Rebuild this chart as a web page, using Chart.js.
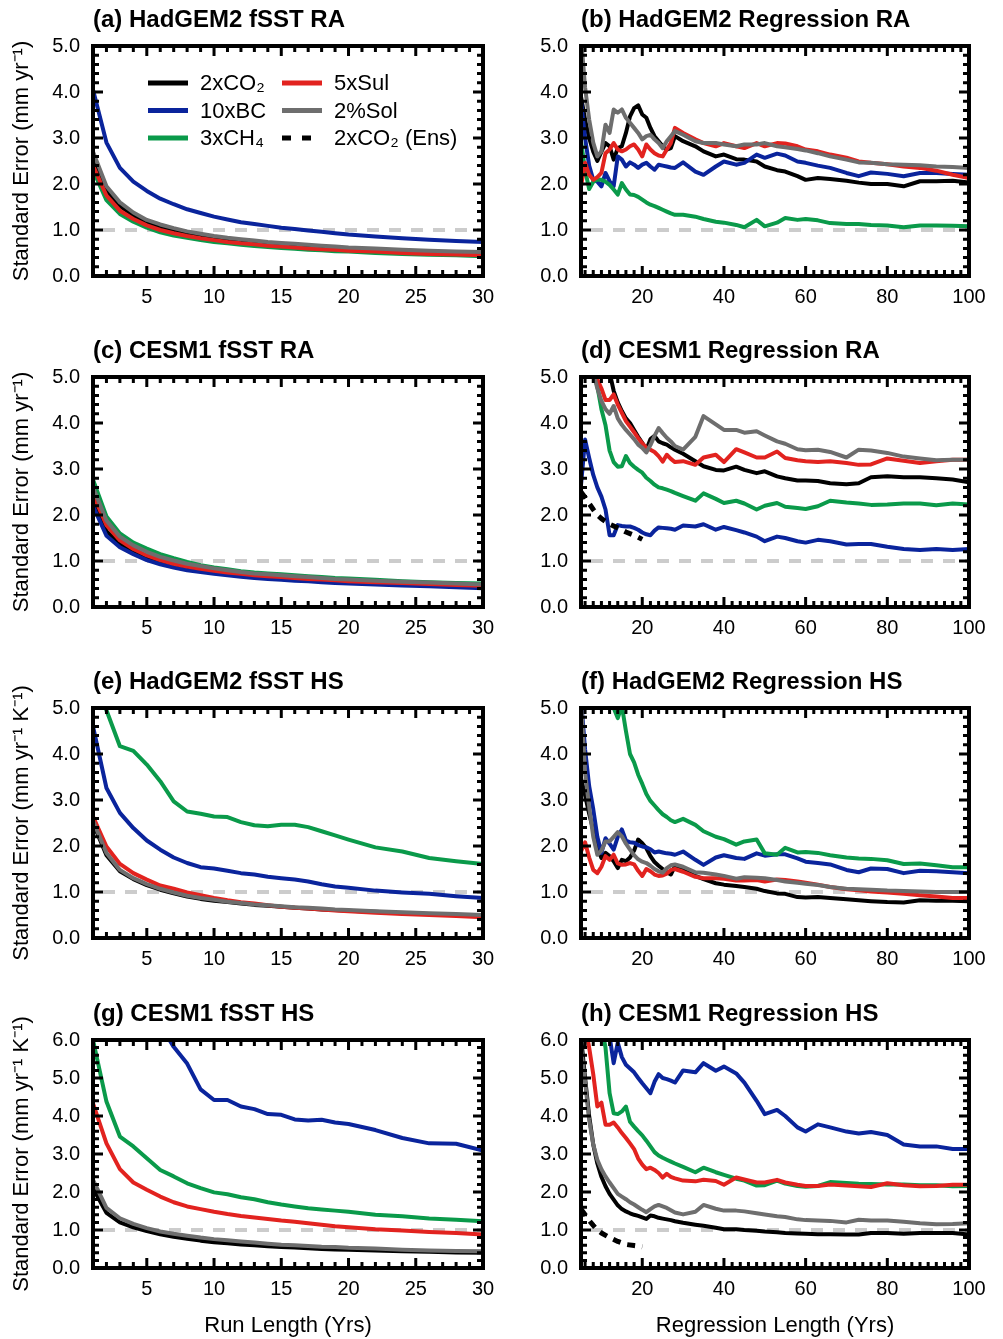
<!DOCTYPE html>
<html>
<head>
<meta charset="utf-8">
<script src="https://cdn.jsdelivr.net/npm/chart.js@4"></script>
<style>
  body { margin: 0; background: #fff; }
  #wrap { position: relative; width: 1003px; height: 1339px; background: #fff; }
  #wrap canvas { position: absolute; }
</style>
</head>
<body>
<div id="wrap"></div>
<script>
// ---- x values / ticks ----
const runX = [1,2,3,4,5,6,7,8,9,10,11,12,13,14,15,16,17,18,19,20,22,24,26,28,30];
const regX = [5,6,7,8,9,10,11,12,13,14,15,16,17,18,19,20,21,22,23,24,25,26,27,28,
              30,33,35,38,40,43,45,48,50,53,55,58,60,63,66,70,73,76,80,84,88,92,96,100];
const ensX = [5,6,7,8,9,10,12,14,16,18,20];
const runTicks = [5,10,15,20,25,30];
const regTicks = [20,40,60,80,100];
const yTicks5 = [0,1,2,3,4,5];
const yTicks6 = [0,1,2,3,4,5,6];

const seriesNames = ['2xCO₂', '10xBC', '3xCH₄', '5xSul', '2%Sol', '2xCO₂ (Ens)'];
const seriesColors = ['#000000', '#0a249c', '#0a9a4a', '#e2231f', '#6e6e6e', '#000000'];

const panelTitles = ['(a) HadGEM2 fSST RA', '(b) HadGEM2 Regression RA',
                     '(c) CESM1 fSST RA', '(d) CESM1 Regression RA',
                     '(e) HadGEM2 fSST HS', '(f) HadGEM2 Regression HS',
                     '(g) CESM1 fSST HS', '(h) CESM1 Regression HS'];
const yLabelRA = 'Standard Error (mm yr⁻¹)';
const yLabelHS = 'Standard Error (mm yr⁻¹ K⁻¹)';
const xLabelRun = 'Run Length (Yrs)';
const xLabelReg = 'Regression Length (Yrs)';

// ---- (a) HadGEM2 fSST RA ----
const a_co2 = [2.6,1.85,1.52,1.32,1.17,1.07,0.99,0.93,0.87,0.83,0.79,0.76,0.73,0.7,0.68,0.66,0.64,0.62,0.6,0.59,0.56,0.54,0.52,0.5,0.48];
const a_bc  = [4.05,2.9,2.35,2.05,1.85,1.68,1.56,1.45,1.37,1.29,1.23,1.17,1.13,1.09,1.05,1.02,0.99,0.96,0.93,0.9,0.86,0.82,0.79,0.76,0.74];
const a_ch4 = [2.3,1.65,1.35,1.18,1.05,0.95,0.88,0.83,0.78,0.74,0.71,0.68,0.65,0.63,0.61,0.59,0.57,0.56,0.54,0.53,0.5,0.48,0.46,0.45,0.43];
const a_sul = [2.4,1.75,1.42,1.24,1.1,1.0,0.93,0.87,0.82,0.78,0.74,0.71,0.69,0.66,0.64,0.62,0.6,0.58,0.57,0.55,0.53,0.5,0.48,0.47,0.45];
const a_sol = [2.7,1.95,1.6,1.38,1.22,1.12,1.04,0.97,0.92,0.87,0.83,0.8,0.77,0.74,0.72,0.7,0.68,0.66,0.64,0.62,0.6,0.57,0.55,0.53,0.52];

// ---- (b) HadGEM2 Regression RA ----
const b_co2 = [3.9,3.4,3.0,2.7,2.5,2.7,2.89,2.82,2.53,2.78,2.82,3.11,3.47,3.65,3.71,3.51,3.44,3.22,3.04,2.93,2.82,2.75,2.78,3.04,
               2.93,2.82,2.71,2.6,2.64,2.54,2.53,2.49,2.38,2.3,2.27,2.17,2.09,2.13,2.11,2.07,2.03,2.0,2.0,1.95,2.06,2.06,2.07,2.03];
const b_bc  = [3.8,3.0,2.4,2.09,2.05,1.95,2.24,2.06,1.95,2.6,2.53,2.38,2.47,2.42,2.35,2.42,2.46,2.38,2.31,2.42,2.4,2.38,2.36,2.35,
               2.47,2.27,2.2,2.38,2.49,2.42,2.46,2.64,2.57,2.66,2.62,2.49,2.46,2.4,2.35,2.24,2.17,2.25,2.22,2.17,2.24,2.24,2.22,2.2];
const b_ch4 = [2.93,2.3,1.89,2.05,2.1,2.09,2.05,1.98,1.88,1.77,2.02,1.88,1.77,1.76,1.72,1.66,1.6,1.55,1.52,1.48,1.44,1.4,1.36,1.33,
               1.33,1.29,1.24,1.18,1.16,1.11,1.06,1.22,1.08,1.16,1.26,1.22,1.24,1.21,1.15,1.13,1.13,1.11,1.1,1.06,1.1,1.1,1.09,1.08];
const b_sul = [1.95,2.46,2.2,2.09,2.15,2.24,2.67,2.75,2.89,2.75,2.71,2.75,2.82,2.86,2.75,2.6,2.86,2.75,2.67,2.62,2.6,2.75,2.89,3.22,
               3.11,2.97,2.89,2.82,2.89,2.82,2.78,2.89,2.82,2.89,2.88,2.82,2.75,2.71,2.64,2.57,2.49,2.46,2.43,2.38,2.35,2.29,2.2,2.13];
const b_sol = [5.2,4.1,3.4,2.9,2.6,2.71,3.29,3.11,3.62,3.55,3.62,3.44,3.33,3.22,3.11,2.97,3.04,3.07,2.97,2.89,2.78,2.93,3.04,3.15,
               3.07,2.93,2.89,2.89,2.86,2.82,2.86,2.86,2.89,2.82,2.8,2.76,2.73,2.67,2.6,2.53,2.47,2.46,2.43,2.42,2.41,2.38,2.37,2.35];

// ---- (c) CESM1 fSST RA ----
const c_co2 = [2.35,1.65,1.38,1.2,1.06,0.97,0.9,0.84,0.79,0.75,0.71,0.68,0.66,0.63,0.61,0.59,0.58,0.56,0.55,0.53,0.51,0.49,0.47,0.45,0.43];
const c_bc  = [2.2,1.55,1.3,1.15,1.02,0.93,0.86,0.8,0.76,0.72,0.69,0.66,0.63,0.61,0.59,0.57,0.56,0.54,0.52,0.51,0.49,0.47,0.45,0.43,0.41];
const c_ch4 = [2.77,1.97,1.6,1.4,1.27,1.15,1.06,0.98,0.91,0.86,0.82,0.78,0.75,0.73,0.71,0.69,0.67,0.65,0.63,0.62,0.59,0.56,0.54,0.52,0.51];
const c_sul = [2.45,1.78,1.45,1.26,1.12,1.02,0.94,0.88,0.83,0.79,0.75,0.72,0.69,0.67,0.65,0.63,0.61,0.6,0.58,0.56,0.54,0.52,0.5,0.48,0.46];
const c_sol = [2.6,1.88,1.53,1.34,1.2,1.09,1.01,0.94,0.89,0.84,0.8,0.76,0.73,0.71,0.69,0.67,0.65,0.63,0.61,0.6,0.57,0.55,0.53,0.51,0.49];

// ---- (d) CESM1 Regression RA ----
const d_co2 = [8.5,7.8,7.2,6.6,6.1,5.7,5.4,5.1,4.7,4.45,4.26,4.1,4.0,3.85,3.7,3.57,3.42,3.65,3.72,3.6,3.56,3.53,3.47,3.42,
               3.33,3.17,3.06,2.98,2.97,3.05,2.98,2.91,2.95,2.84,2.8,2.75,2.75,2.74,2.69,2.67,2.69,2.82,2.84,2.82,2.82,2.8,2.77,2.71];
const d_bc  = [2.65,3.64,3.24,2.87,2.6,2.4,2.12,1.56,1.56,1.78,1.76,1.75,1.75,1.72,1.68,1.62,1.58,1.56,1.66,1.73,1.72,1.71,1.7,1.68,
               1.77,1.75,1.8,1.68,1.74,1.67,1.62,1.53,1.43,1.53,1.5,1.43,1.4,1.46,1.43,1.36,1.37,1.37,1.31,1.26,1.24,1.26,1.24,1.26];
const d_ch4 = [6.5,6.0,5.5,5.1,4.8,4.3,3.95,3.4,3.15,3.05,3.06,3.28,3.13,3.05,2.98,2.92,2.81,2.74,2.66,2.6,2.58,2.55,2.52,2.48,
               2.41,2.31,2.47,2.35,2.26,2.31,2.25,2.12,2.2,2.26,2.18,2.15,2.13,2.19,2.31,2.27,2.25,2.22,2.23,2.25,2.25,2.21,2.25,2.23];
const d_sul = [7.0,6.4,5.9,5.4,4.95,4.75,4.5,4.5,4.62,4.4,4.22,4.04,3.92,3.8,3.67,3.56,3.46,3.42,3.37,3.28,3.16,3.31,3.22,3.15,
               3.17,3.09,3.25,3.31,3.15,3.43,3.36,3.25,3.25,3.38,3.24,3.19,3.17,3.15,3.17,3.13,3.09,3.1,3.23,3.18,3.13,3.17,3.2,3.2];
const d_sol = [6.8,6.2,5.6,5.1,4.75,4.48,4.3,4.2,4.37,4.1,3.96,3.85,3.75,3.65,3.53,3.46,3.36,3.52,3.72,3.89,3.78,3.68,3.6,3.5,
               3.42,3.7,4.15,3.97,3.85,3.85,3.79,3.82,3.73,3.6,3.55,3.43,3.41,3.42,3.37,3.25,3.42,3.4,3.35,3.27,3.23,3.19,3.2,3.2];
const d_ens = [2.5,2.38,2.25,2.12,2.0,1.92,1.8,1.72,1.63,1.56,1.47];

// ---- (e) HadGEM2 fSST HS ----
const e_co2 = [2.5,1.8,1.45,1.28,1.15,1.05,0.97,0.9,0.85,0.81,0.78,0.75,0.72,0.7,0.68,0.66,0.64,0.62,0.61,0.59,0.57,0.54,0.52,0.5,0.48];
const e_bc  = [4.6,3.26,2.72,2.39,2.12,1.92,1.75,1.63,1.54,1.51,1.46,1.41,1.38,1.33,1.3,1.27,1.23,1.17,1.12,1.09,1.03,0.99,0.96,0.91,0.87];
const e_ch4 = [5.9,4.95,4.17,4.07,3.77,3.41,2.97,2.75,2.7,2.64,2.63,2.52,2.45,2.43,2.46,2.46,2.41,2.32,2.23,2.14,1.97,1.88,1.74,1.67,1.61];
const e_sul = [2.64,1.99,1.61,1.41,1.27,1.14,1.07,0.99,0.93,0.87,0.82,0.78,0.75,0.71,0.68,0.66,0.64,0.62,0.6,0.58,0.55,0.52,0.5,0.48,0.45];
const e_sol = [2.55,1.85,1.48,1.3,1.17,1.07,0.99,0.92,0.87,0.83,0.79,0.76,0.73,0.71,0.69,0.67,0.66,0.64,0.62,0.61,0.58,0.56,0.54,0.52,0.5];

// ---- (f) HadGEM2 Regression HS ----
const f_co2 = [3.48,3.1,2.7,2.35,1.95,1.74,1.85,1.78,1.67,1.52,1.7,1.67,1.75,1.9,2.14,2.06,1.95,1.78,1.65,1.57,1.5,1.43,1.38,1.56,
               1.47,1.35,1.28,1.19,1.16,1.13,1.11,1.07,1.02,0.97,0.96,0.89,0.88,0.89,0.87,0.84,0.82,0.8,0.78,0.77,0.82,0.81,0.81,0.8];
const f_bc  = [5.2,4.1,3.3,2.8,2.2,1.85,2.17,2.05,1.92,2.2,2.36,2.12,2.08,2.07,2.02,1.99,1.97,1.93,1.86,1.88,1.86,1.84,1.83,1.81,
               1.88,1.7,1.59,1.75,1.8,1.74,1.72,1.84,1.79,1.82,1.82,1.73,1.66,1.63,1.6,1.48,1.43,1.51,1.5,1.41,1.46,1.45,1.43,1.41];
const f_ch4 = [9.5,8.5,7.6,6.9,6.3,5.9,5.5,5.2,5.0,4.78,5.05,4.5,4.0,3.82,3.55,3.35,3.13,2.98,2.88,2.78,2.69,2.63,2.56,2.52,
               2.59,2.46,2.32,2.2,2.15,2.03,2.1,2.14,1.84,1.81,1.96,1.86,1.87,1.85,1.8,1.75,1.73,1.72,1.69,1.61,1.62,1.58,1.54,1.54];
const f_sul = [1.88,2.08,1.75,1.48,1.41,1.55,1.78,1.7,1.81,1.62,1.59,1.6,1.63,1.6,1.46,1.35,1.5,1.45,1.38,1.35,1.36,1.4,1.48,1.5,
               1.44,1.33,1.3,1.3,1.29,1.25,1.25,1.26,1.23,1.27,1.26,1.23,1.2,1.16,1.11,1.06,1.04,1.01,0.99,0.96,0.93,0.9,0.87,0.87];
const f_sol = [5.2,3.6,2.85,2.2,1.81,1.9,2.1,2.1,2.2,2.3,2.21,2.05,1.92,1.8,1.71,1.66,1.63,1.57,1.5,1.45,1.42,1.52,1.58,1.6,
               1.55,1.43,1.42,1.38,1.35,1.29,1.32,1.31,1.3,1.26,1.23,1.2,1.18,1.15,1.11,1.07,1.06,1.05,1.03,1.02,1.01,1.0,1.0,1.0];

// ---- (g) CESM1 fSST HS ----
const g_co2 = [2.1,1.45,1.2,1.07,0.97,0.89,0.82,0.77,0.72,0.68,0.65,0.62,0.6,0.57,0.55,0.54,0.52,0.5,0.49,0.48,0.46,0.44,0.43,0.41,0.4];
const g_bc  = [14,11,9.5,8.3,7.4,6.4,5.82,5.38,4.7,4.42,4.42,4.25,4.18,4.05,4.03,3.91,3.88,3.9,3.83,3.79,3.63,3.42,3.28,3.27,3.09];
const g_ch4 = [6.0,4.38,3.46,3.2,2.89,2.58,2.41,2.23,2.1,1.99,1.94,1.86,1.81,1.73,1.67,1.62,1.57,1.54,1.51,1.48,1.4,1.36,1.3,1.27,1.23];
const g_sul = [4.33,3.28,2.6,2.25,2.06,1.88,1.73,1.62,1.55,1.48,1.42,1.37,1.33,1.29,1.25,1.22,1.18,1.14,1.1,1.07,1.02,0.99,0.95,0.92,0.88];
const g_sol = [2.32,1.58,1.31,1.16,1.05,0.96,0.9,0.85,0.8,0.76,0.73,0.7,0.67,0.64,0.61,0.6,0.58,0.56,0.55,0.53,0.51,0.48,0.46,0.45,0.44];

// ---- (h) CESM1 Regression HS ----
const h_co2 = [6.1,5.0,4.0,3.25,2.75,2.4,2.15,1.95,1.8,1.65,1.55,1.49,1.44,1.4,1.37,1.33,1.29,1.38,1.36,1.32,1.3,1.28,1.26,1.23,
               1.19,1.14,1.11,1.06,1.02,1.02,1.0,0.98,0.96,0.94,0.92,0.91,0.9,0.89,0.89,0.88,0.88,0.92,0.92,0.9,0.92,0.92,0.92,0.88];
const h_bc  = [12,10.5,9.5,8.6,7.9,7.2,6.6,6.1,5.39,5.93,5.55,5.35,5.25,5.15,5.0,4.86,4.73,4.6,4.9,5.1,5.0,4.97,4.93,4.88,
               5.2,5.15,5.39,5.19,5.3,5.12,4.88,4.4,4.05,4.16,4.0,3.7,3.59,3.78,3.7,3.59,3.54,3.58,3.5,3.25,3.2,3.2,3.13,3.13];
const h_ch4 = [10,9.0,8.2,7.5,6.9,6.4,5.8,4.6,4.07,4.05,4.12,4.25,3.85,3.72,3.6,3.49,3.35,3.2,3.05,2.96,2.9,2.85,2.8,2.75,
               2.66,2.52,2.64,2.52,2.45,2.35,2.3,2.17,2.18,2.3,2.22,2.16,2.14,2.16,2.26,2.24,2.22,2.21,2.2,2.2,2.18,2.18,2.15,2.16];
const h_sul = [7.5,6.4,5.8,5.1,4.25,4.35,3.77,3.77,3.83,3.7,3.55,3.42,3.28,3.13,2.88,2.72,2.6,2.64,2.58,2.5,2.38,2.48,2.4,2.36,
               2.3,2.28,2.32,2.29,2.19,2.38,2.33,2.25,2.25,2.32,2.25,2.19,2.16,2.16,2.2,2.17,2.15,2.13,2.23,2.18,2.15,2.16,2.19,2.19];
const h_sol = [5.8,4.9,3.9,3.25,2.85,2.6,2.41,2.25,2.1,1.95,1.88,1.81,1.73,1.67,1.6,1.53,1.47,1.55,1.62,1.66,1.62,1.58,1.52,1.46,
               1.41,1.48,1.66,1.56,1.51,1.51,1.49,1.44,1.41,1.36,1.34,1.28,1.26,1.25,1.24,1.2,1.27,1.25,1.25,1.22,1.18,1.15,1.16,1.18];
const h_ens = [1.55,1.4,1.25,1.12,1.0,0.92,0.8,0.7,0.62,0.59,0.56];

Chart.defaults.font.family = '"Liberation Sans", Arial, Helvetica, sans-serif';
Chart.defaults.color = '#000';

// inward tick marks on all four sides + box frame
const frameTicks = {
  id: 'frameTicks',
  afterDatasetsDraw(chart, args, o) {
    const {ctx, chartArea: a, scales: {x, y}} = chart;
    ctx.save();
    ctx.strokeStyle = '#000';
    ctx.lineWidth = 3;
    ctx.setLineDash([]);
    ctx.beginPath();
    const n = Math.round((x.max - o.xFirst) / o.xMinor);
    for (let i = 0; i <= n; i++) {
      const v = o.xFirst + i * o.xMinor;
      const px = x.getPixelForValue(v);
      const len = v % o.xMajor === 0 ? 10 : 6;
      ctx.moveTo(px, a.bottom); ctx.lineTo(px, a.bottom - len);
      ctx.moveTo(px, a.top); ctx.lineTo(px, a.top + len);
    }
    const m = Math.round(y.max / 0.2);
    for (let j = 0; j <= m; j++) {
      const py = y.getPixelForValue(j * 0.2);
      const len = j % 5 === 0 ? 10 : 6;
      ctx.moveTo(a.left, py); ctx.lineTo(a.left + len, py);
      ctx.moveTo(a.right, py); ctx.lineTo(a.right - len, py);
    }
    ctx.stroke();
    ctx.lineWidth = 4;
    ctx.strokeRect(a.left, a.top, a.right - a.left, a.bottom - a.top);
    ctx.restore();
  }
};

// two-column legend inside panel (a)
const legendBox = {
  id: 'legendBox',
  afterDatasetsDraw(chart, args, o) {
    if (!o.show) return;
    const {ctx, chartArea: a} = chart;
    ctx.save();
    ctx.font = '22px "Liberation Sans", Arial, sans-serif';
    ctx.textBaseline = 'middle';
    ctx.fillStyle = '#000';
    seriesNames.forEach((name, i) => {
      const col = Math.floor(i / 3), row = i % 3;
      const x0 = a.left + (col ? 189 : 55);
      const yy = a.top + 37 + row * 27.5;
      ctx.strokeStyle = seriesColors[i];
      ctx.lineWidth = 5;
      ctx.setLineDash(i === 5 ? [9, 11] : []);
      ctx.beginPath();
      ctx.moveTo(x0, yy);
      ctx.lineTo(x0 + 40, yy);
      ctx.stroke();
      ctx.fillText(name, x0 + 52, yy + 1);
    });
    ctx.restore();
  }
};

const panels = [
  {col: 0, row: 0, x: runX, series: [a_co2, a_bc, a_ch4, a_sul, a_sol], ens: null, yTicks: yTicks5, yLabel: yLabelRA, legend: true},
  {col: 1, row: 0, x: regX, series: [b_co2, b_bc, b_ch4, b_sul, b_sol], ens: null, yTicks: yTicks5},
  {col: 0, row: 1, x: runX, series: [c_co2, c_bc, c_ch4, c_sul, c_sol], ens: null, yTicks: yTicks5, yLabel: yLabelRA},
  {col: 1, row: 1, x: regX, series: [d_co2, d_bc, d_ch4, d_sul, d_sol], ens: d_ens, yTicks: yTicks5},
  {col: 0, row: 2, x: runX, series: [e_co2, e_bc, e_ch4, e_sul, e_sol], ens: null, yTicks: yTicks5, yLabel: yLabelHS},
  {col: 1, row: 2, x: regX, series: [f_co2, f_bc, f_ch4, f_sul, f_sol], ens: null, yTicks: yTicks5},
  {col: 0, row: 3, x: runX, series: [g_co2, g_bc, g_ch4, g_sul, g_sol], ens: null, yTicks: yTicks6, yLabel: yLabelHS},
  {col: 1, row: 3, x: regX, series: [h_co2, h_bc, h_ch4, h_sul, h_sol], ens: h_ens, yTicks: yTicks6}
];

const rowTop = [46, 377, 708, 1040];
const wrap = document.getElementById('wrap');

function pairs(xs, ys) {
  return xs.map((x, i) => ({x: x, y: ys[i]}));
}

function makePanel(p, idx) {
  const isLeft = p.col === 0;
  const W = isLeft ? 500 : 503;
  const H = p.row === 3 ? 345 : 320;
  const areaLeft = isLeft ? 93 : 81;
  const areaRight = isLeft ? 17 : 34;
  const areaH = p.row === 3 ? 228 : 230;

  const cv = document.createElement('canvas');
  cv.width = W;
  cv.height = H;
  cv.style.width = W + 'px';
  cv.style.height = H + 'px';
  cv.style.left = (isLeft ? 0 : 500) + 'px';
  cv.style.top = (rowTop[p.row] - 46) + 'px';
  wrap.appendChild(cv);

  const xMin = p.x[0], xMax = p.x[p.x.length - 1];
  const datasets = [];
  if (p.ens) {
    datasets.push({label: seriesNames[5], data: pairs(ensX, p.ens), borderColor: seriesColors[5],
                   borderWidth: 5, borderDash: [8, 7], order: 0});
  }
  // gray on top, black at the bottom
  [4, 3, 2, 1, 0].forEach((k, i) => {
    datasets.push({label: seriesNames[k], data: pairs(p.x, p.series[k]), borderColor: seriesColors[k],
                   borderWidth: 4, order: i + 1});
  });
  datasets.push({label: 'ref', data: [{x: xMin, y: 1}, {x: xMax, y: 1}], borderColor: '#cccccc',
                 borderWidth: 4, borderDash: [12, 10], borderDashOffset: 12, order: 10});

  new Chart(cv, {
    type: 'line',
    data: {datasets: datasets},
    options: {
      responsive: false,
      animation: false,
      devicePixelRatio: 1,
      layout: {padding: {left: 0, right: areaRight, top: 0, bottom: 0}},
      elements: {
        point: {radius: 0},
        line: {tension: 0, fill: false, borderJoinStyle: 'round', borderCapStyle: 'butt'}
      },
      plugins: {
        legend: {display: false},
        tooltip: {enabled: false},
        title: {display: true, text: panelTitles[idx], align: 'start', fullSize: false,
                font: {size: 24, weight: 'bold'}, padding: {top: 6, bottom: 11.2}},
        frameTicks: isLeft ? {xFirst: 1, xMinor: 1, xMajor: 5} : {xFirst: 6, xMinor: 2, xMajor: 20},
        legendBox: {show: !!p.legend}
      },
      scales: {
        x: {
          type: 'linear', min: xMin, max: xMax,
          grid: {display: false}, border: {display: false},
          ticks: {font: {size: 20}, padding: 1, maxRotation: 0, autoSkip: false},
          afterBuildTicks: s => { s.ticks = (isLeft ? runTicks : regTicks).map(v => ({value: v})); },
          afterFit: s => { s.height = H - 46 - areaH; },
          title: {display: p.row === 3, text: isLeft ? xLabelRun : xLabelReg,
                  font: {size: 22}, padding: {top: 0, bottom: 0}}
        },
        y: {
          type: 'linear', min: 0, max: p.yTicks[p.yTicks.length - 1],
          grid: {display: false}, border: {display: false},
          ticks: {font: {size: 20}, padding: 5, callback: v => v.toFixed(1)},
          afterBuildTicks: s => { s.ticks = p.yTicks.map(v => ({value: v})); },
          afterFit: s => { s.width = areaLeft; },
          title: {display: isLeft, text: p.yLabel || '', font: {size: 22}, padding: {top: 9, bottom: 0}}
        }
      }
    },
    plugins: [frameTicks, legendBox]
  });
}

panels.forEach(makePanel);
</script>
</body>
</html>
